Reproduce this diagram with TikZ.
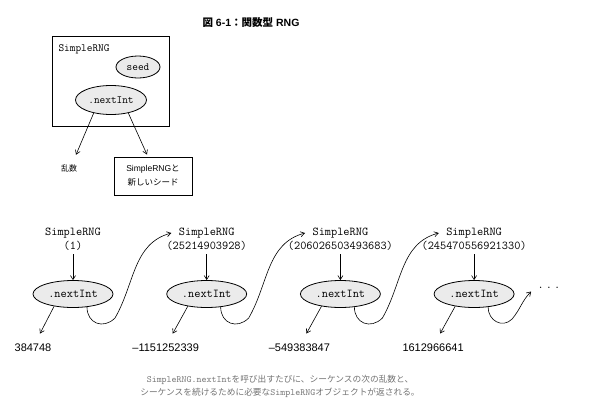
\documentclass[tikz,border=0pt]{standalone}
\usepackage{fontspec}
\setmainfont{Liberation Sans}
\newfontfamily\jp{Noto Sans CJK JP}
\usetikzlibrary{shapes.geometric,arrows.meta}

\begin{document}
\begin{tikzpicture}[x=1pt,y=-1pt,node distance=133.7pt,
    >={Straight Barb[length=4pt,width=5pt]},
    conn/.style={->,line width=0.6pt},
    method/.style={ellipse,draw,line width=0.8pt,fill=black!8,inner sep=0pt,
      minimum width=80pt,minimum height=27pt,font=\ttfamily\fontsize{12}{13}\selectfont},
    small/.style={minimum width=71pt,minimum height=29pt,font=\ttfamily\fontsize{11}{12}\selectfont},
    code/.style={font=\ttfamily\fontsize{12}{13}\selectfont},
    value/.style={font=\fontsize{11}{13}\selectfont}]
    \useasboundingbox (0,0) rectangle (592,418);

    % title
    \node (TTL) at (251,23) {\bfseries\fontsize{10.5}{12}\selectfont{\jp 図} 6-1{\jp ：関数型} RNG};

    % one generator
    \node (BOX) [draw,line width=0.9pt,minimum width=117pt,minimum height=90pt] at (110.5,81) {};
    \node (BOXt) [anchor=base west,font=\ttfamily\fontsize{11}{12}\selectfont] at (55,51.5) {SimpleRNG};
    \node (SD) [method,small,minimum width=44pt,minimum height=22pt] at (138,67) {seed};
    \node (NI) [method,small] at (111,100) {.nextInt};
    \node (RN) [font=\jp\fontsize{8}{10}\selectfont] at (69,168) {乱数};
    \node (NR) [draw,line width=0.9pt,minimum width=78pt,minimum height=38pt,align=center,
      font=\fontsize{8.5}{14}\selectfont] at (153,176) {SimpleRNG{\jp と}\\{\jp 新しいシード}};

    \draw[conn] (NI.-143) -- ([xshift=7pt,yshift=6pt]RN.north);
    \draw[conn] (NI.-37) -- ([xshift=-6pt,yshift=2pt]NR.north);

    % the sequence
    \node (N1) [method] at (73,294) {.nextInt};
    \node (N2) [method,right of=N1] {.nextInt};
    \node (N3) [method,right of=N2] {.nextInt};
    \node (N4) [method,right of=N3] {.nextInt};

    \node (R1) [code,above of=N1,node distance=61pt] {SimpleRNG};
    \node (S1) [code,below of=R1,node distance=13pt] {(1)};
    \node (R2) [code,above of=N2,node distance=61pt] {SimpleRNG};
    \node (S2) [code,below of=R2,node distance=13pt] {(25214903928)};
    \node (R3) [code,above of=N3,node distance=61pt] {SimpleRNG};
    \node (S3) [code,below of=R3,node distance=13pt] {(206026503493683)};
    \node (R4) [code,above of=N4,node distance=61pt] {SimpleRNG};
    \node (S4) [code,below of=R4,node distance=13pt] {(245470556921330)};

    \node (V1) [value,below of=N1,node distance=54pt,xshift=-40pt] {384748};
    \node (V2) [value,below of=N2,node distance=54pt,xshift=-41pt] {–1151252339};
    \node (V3) [value,below of=N3,node distance=54pt,xshift=-41pt] {–549383847};
    \node (V4) [value,below of=N4,node distance=54pt,xshift=-41pt] {1612966641};
    \node (DOT) [code] at (549,287.5) {.\hspace{2pt}.\hspace{2pt}.};

    \draw[conn] (S1) -- (N1);
    \draw[conn] (S2) -- (N2);
    \draw[conn] (S3) -- (N3);
    \draw[conn] (S4) -- (N4);

    \draw[conn] (N1.-147) -- ([xshift=7pt,yshift=7pt]V1.north);
    \draw[conn] (N2.-147) -- ([xshift=7pt,yshift=7pt]V2.north);
    \draw[conn] (N3.-147) -- ([xshift=7pt,yshift=7pt]V3.north);
    \draw[conn] (N4.-147) -- ([xshift=7pt,yshift=7pt]V4.north);

    \draw[conn] (N1.-43) to[out=-90,in=-135,looseness=1.4] ++(28,11)
      to[out=60,in=195] ([xshift=-4pt]R2.west);
    \draw[conn] (N2.-43) to[out=-90,in=-135,looseness=1.4] ++(28,11)
      to[out=60,in=195] ([xshift=-4pt]R3.west);
    \draw[conn] (N3.-43) to[out=-90,in=-135,looseness=1.4] ++(28,11)
      to[out=60,in=195] ([xshift=-4pt]R4.west);
    \draw[conn] (N4.-43) to[out=-90,in=-135,looseness=1.3] ++(24,12)
      to[out=50,in=225] ([xshift=-3pt,yshift=-4pt]DOT.west);

    % caption
    \node (CAP) [align=center,text=black!55,font=\fontsize{8.7}{13}\selectfont] at (280,386.5)
      {{\ttfamily\fontsize{9.5}{13}\selectfont SimpleRNG.nextInt}{\jp を呼び出すたびに、シーケンスの次の乱数と、}\\
       {\jp シーケンスを続けるために必要な}{\ttfamily\fontsize{9.5}{13}\selectfont SimpleRNG}{\jp オブジェクトが返される。}};
\end{tikzpicture}
\end{document}
